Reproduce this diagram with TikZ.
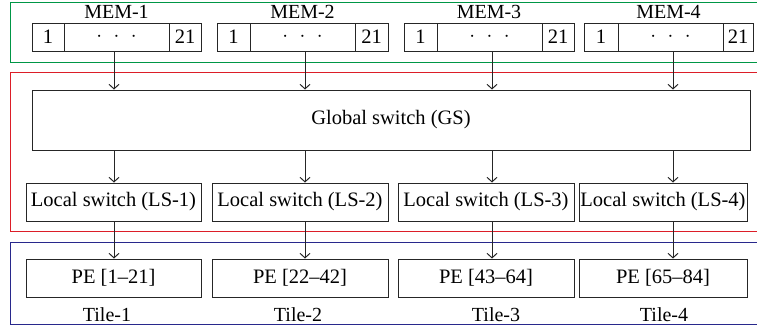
\documentclass[tikz,border=0pt]{standalone}
\usepackage{fontspec}
\setmainfont{Liberation Serif}
\usetikzlibrary{arrows.meta}
\definecolor{frgreen}{RGB}{0,150,70}
\definecolor{frred}{RGB}{220,30,40}
\definecolor{frblue}{RGB}{40,40,140}
\begin{document}
\begin{tikzpicture}[x=1pt,y=-1pt,
  box/.style={draw=black!85,line width=1pt,inner sep=0pt,font=\fontsize{20.5}{22}\selectfont},
  lbl/.style={inner sep=0pt,text depth=0pt,font=\fontsize{20}{22}\selectfont},
  frame/.style={line width=1pt},
  arr/.style={draw=black!85,line width=1pt,-{Straight Barb[length=4.5pt,width=10pt]}}]
\useasboundingbox (0,0) rectangle (757,327);
\clip (0,0) rectangle (757,327);
% frames
\draw[frame,frgreen] (10,2) rectangle (780,62);
\draw[frame,frred] (10,72.5) rectangle (780,231);
\draw[frame,frblue] (10,242.5) rectangle (780,324);
% memories
\foreach \i/\a/\b/\c/\d in {1/32/64/169/201,2/217/250/355/388,3/404/437/542/574,4/584/618/723/753}{
  \node[box,minimum width={\b-\a},minimum height=28] (m\i a) at ({(\a+\b)/2},37) {1};
  \node[box,minimum width={\c-\b},minimum height=28] (m\i b) at ({(\b+\c)/2},37) {$\cdot\hspace{7pt}\cdot\hspace{7pt}\cdot$};
  \node[box,minimum width={\d-\c},minimum height=28] (m\i c) at ({(\c+\d)/2},37) {21};
  \node[lbl,anchor=base] (mem\i) at ({(\a+\d)/2},18.5) {MEM-\i};
}
% global switch
\node[box,minimum width=718,minimum height=60] (gs) at (391,120) {Global switch (GS)};
% local switches and PEs
\foreach \i/\a/\b/\pe in {1/26/201/{1--21},2/212/388/{22--42},3/398/574/{43--64},4/579/747/{65--84}}{
  \node[box,minimum width={\b-\a},minimum height=38] (ls\i) at ({(\a+\b)/2},202) {Local switch (LS-\i)};
  \node[box,minimum width={\b-\a},minimum height=38] (pe\i) at ({(\a+\b)/2},278) {PE [\pe]};
}
\node[lbl,anchor=base] (t1) at (107,321) {Tile-1};
\node[lbl,anchor=base] (t2) at (298,321) {Tile-2};
\node[lbl,anchor=base] (t3) at (496,321) {Tile-3};
\node[lbl,anchor=base] (t4) at (664,321) {Tile-4};
% arrows
\foreach \i/\x in {1/114,2/305,3/492,4/673}{
  \coordinate (c\i) at (\x,0);
  \draw[arr] (m\i b.south -| c\i) -- (gs.north -| c\i);
  \draw[arr] (gs.south -| c\i) -- (ls\i.north -| c\i);
  \draw[arr] (ls\i.south -| c\i) -- (pe\i.north -| c\i);
}
\end{tikzpicture}
\end{document}
